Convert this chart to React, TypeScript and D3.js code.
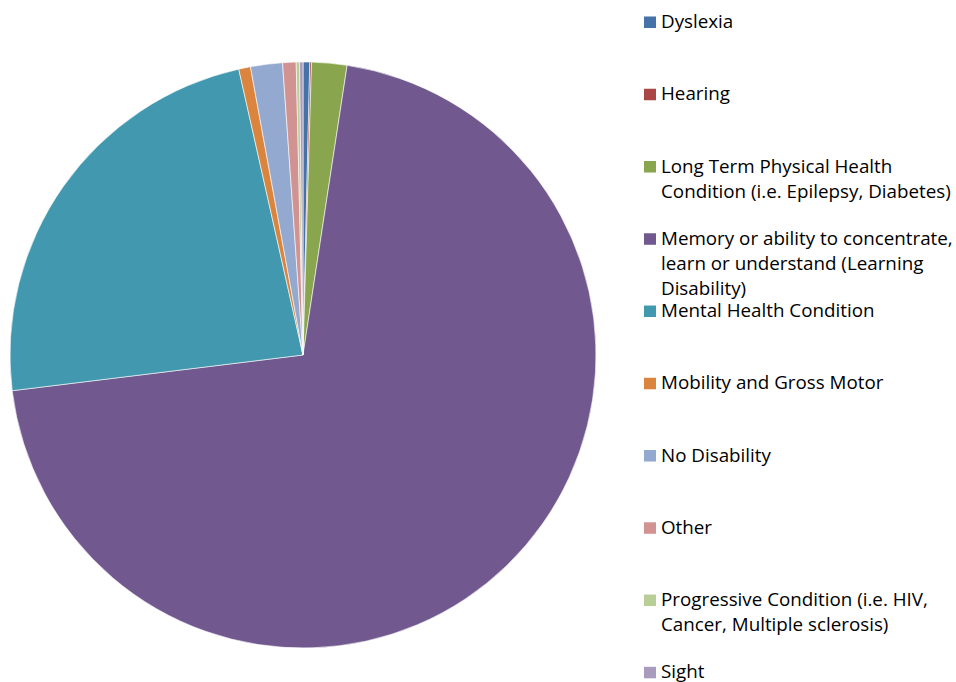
import React from "react";
import * as d3 from "d3";

const categories = [
  "Dyslexia",
  "Hearing",
  "Long Term Physical Health Condition (i.e. Epilepsy, Diabetes)",
  "Memory or ability to concentrate, learn or understand (Learning Disability)",
  "Mental Health Condition",
  "Mobility and Gross Motor",
  "No Disability",
  "Other",
  "Progressive Condition (i.e. HIV, Cancer, Multiple sclerosis)",
  "Sight",
];
const legendLines = [
  ["Dyslexia"],
  ["Hearing"],
  ["Long Term Physical Health", "Condition (i.e. Epilepsy, Diabetes)"],
  ["Memory or ability to concentrate,", "learn or understand (Learning", "Disability)"],
  ["Mental Health Condition"],
  ["Mobility and Gross Motor"],
  ["No Disability"],
  ["Other"],
  ["Progressive Condition (i.e. HIV,", "Cancer, Multiple sclerosis)"],
  ["Sight"],
];
const values = [4, 1, 21, 763, 253, 7, 19, 8, 2, 2];
const colors = [
  "#4572A7", "#AA4643", "#89A54E", "#71588F", "#4198AF",
  "#DB843D", "#93A9CF", "#D19392", "#B9CD96", "#A99BBD",
];

const W = 956, H = 682;
const cx = 303, cy = 355, R = 293;
const FONT = "'Open Sans', Lato, sans-serif";

export default function App() {
  const pie = d3.pie<number>().sort(null).value((d) => d)(values);
  const arc = d3.arc<d3.PieArcDatum<number>>().innerRadius(0).outerRadius(R);
  const legendY = d3.scaleLinear().domain([0, categories.length - 1]).range([28, 678.3]);
  return (
    <svg width={W} height={H} style={{ position: "absolute", left: 0, top: 0, background: "#fff" }}>
      <g transform={`translate(${cx},${cy})`}>
        {pie.map((p, i) => (
          <path key={i} d={arc(p) || ""} fill={colors[i]} stroke="#fff" strokeWidth={0.6} />
        ))}
      </g>
      <g fontFamily={FONT} fontSize={18.8} fill="#000">
        {categories.map((c, i) => {
          const y = legendY(i);
          return (
            <g key={c}>
              <rect x={644} y={y - 11.5} width={12} height={11.5} fill={colors[i]} />
              <text x={661} y={y}>
                {legendLines[i].map((l, j) => (
                  <tspan key={j} x={661} dy={j === 0 ? 0 : 25}>{l}</tspan>
                ))}
              </text>
            </g>
          );
        })}
      </g>
    </svg>
  );
}
